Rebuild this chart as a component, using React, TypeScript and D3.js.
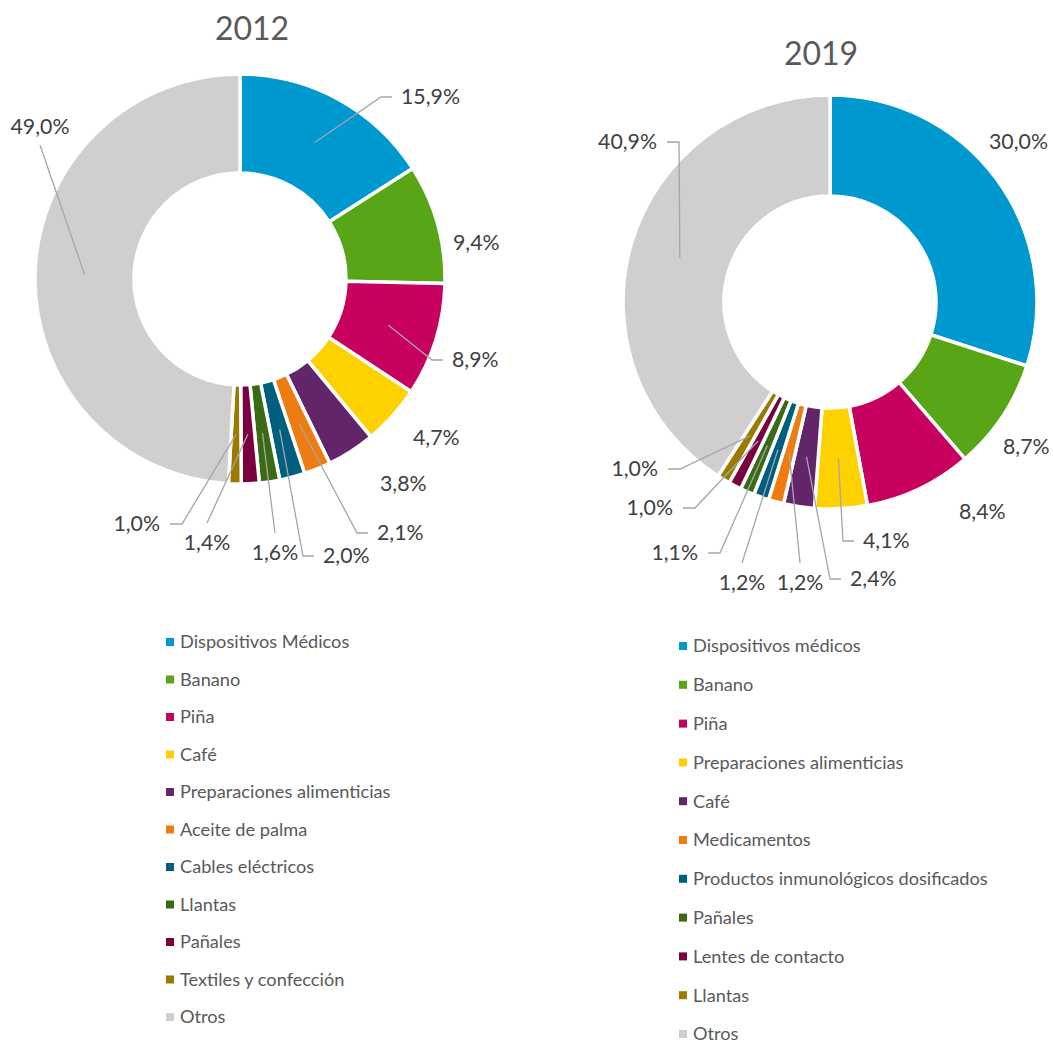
import React from 'react';
import * as d3 from 'd3';

// 2012
const cats2012 = [
  'Dispositivos Médicos', 'Banano', 'Piña', 'Café', 'Preparaciones alimenticias',
  'Aceite de palma', 'Cables eléctricos', 'Llantas', 'Pañales', 'Textiles y confección', 'Otros',
];
const vals2012 = [15.9, 9.4, 8.9, 4.7, 3.8, 2.1, 2.0, 1.6, 1.4, 1.0, 49.0];

// 2019
const cats2019 = [
  'Dispositivos médicos', 'Banano', 'Piña', 'Preparaciones alimenticias', 'Café',
  'Medicamentos', 'Productos inmunológicos dosificados', 'Pañales', 'Lentes de contacto', 'Llantas', 'Otros',
];
const vals2019 = [30.0, 8.7, 8.4, 4.1, 2.4, 1.2, 1.2, 1.1, 1.0, 1.0, 40.9];

const palette = [
  '#0099CF', '#58A618', '#C8005E', '#FED100', '#62256A', '#EE7D11',
  '#005F7F', '#3A6A13', '#7A0040', '#9A7B00', '#D0CECF',
];

// label placement (offset from the centre) and leader style, per slice
type Lbl = [number, number, string];
const labels2012: Lbl[] = [
  [161, -182, 'left'], [213, -36, 'none'], [212, 81, 'left'], [173, 159, 'none'],
  [140, 205, 'none'], [137, 254, 'left'], [83, 277, 'left'], [35, 274, 'top'],
  [-33, 264, 'top'], [-80, 245, 'right'], [-200, -152, 'bottom'],
];
const labels2019: Lbl[] = [
  [159, -160, 'none'], [173, 145, 'none'], [129, 210, 'none'], [33, 239, 'left'],
  [20, 277, 'left'], [-30, 281, 'top'], [-88, 281, 'top'], [-132, 251, 'right'],
  [-157, 206, 'right'], [-172, 167, 'right'], [-173, -160, 'right'],
];

const FONT = 'Lato, "Open Sans", sans-serif';
const fmt = (v: number) => d3.format('.1f')(v).replace('.', ',') + '%';

function Donut({ title, cats, vals, labels, cx, cy, R, r, titleX, titleY, legX, legY, legStep }) {
  const pie = d3.pie<number>().sort(null).value(d => d);
  const arcs = pie(vals);
  const arc = d3.arc<d3.PieArcDatum<number>>().innerRadius(r).outerRadius(R);
  const mid = d3.arc<d3.PieArcDatum<number>>().innerRadius((R + r) / 2).outerRadius((R + r) / 2);

  return (
    <g>
      <text x={titleX} y={titleY} textAnchor="middle" fontSize={32} fill="#595959">{title}</text>
      <g transform={`translate(${cx},${cy})`}>
        {arcs.map((a, i) => (
          <path key={i} d={arc(a) || ''} fill={palette[i]} stroke="#fff" strokeWidth={3.5} strokeLinejoin="miter" />
        ))}
        {arcs.map((a, i) => {
          const [lx, ly, mode] = labels[i];
          const [sx, sy] = mid.centroid(a);
          let pts: [number, number][] | null = null;
          let anchor = 'start';
          if (mode === 'left') pts = [[sx, sy], [lx - 20, ly], [lx - 9, ly]];
          if (mode === 'right') { pts = [[sx, sy], [lx + 22, ly], [lx + 10, ly]]; anchor = 'end'; }
          if (mode === 'top') { pts = [[sx, sy], [lx, ly - 20]]; anchor = 'middle'; }
          if (mode === 'bottom') { pts = [[sx, sy], [lx, ly + 18]]; anchor = 'middle'; }
          return (
            <g key={i}>
              {pts && <path d={d3.line()(pts) || ''} fill="none" stroke="#A6A6A6" strokeWidth={1.3} />}
              <text x={lx} y={ly} dy="0.35em" textAnchor={anchor} fontSize={21.3} fill="#404040">{fmt(vals[i])}</text>
            </g>
          );
        })}
      </g>
      <g transform={`translate(${legX},${legY})`}>
        {cats.map((c, i) => (
          <g key={i} transform={`translate(0,${i * legStep})`}>
            <rect x={-14} y={-4} width={8} height={8} fill={palette[i]} />
            <text x={0} y={0} dy="0.35em" fontSize={18.2} fill="#595959">{c}</text>
          </g>
        ))}
      </g>
    </g>
  );
}

export default function App() {
  return (
    <svg width={1053} height={1042} style={{ position: 'absolute', left: 0, top: 0, background: '#fff' }}
      fontFamily={FONT}>
      <Donut title="2012" cats={cats2012} vals={vals2012} labels={labels2012}
        cx={240} cy={279} R={205} r={106} titleX={252} titleY={40}
        legX={180} legY={642} legStep={37.5} />
      <Donut title="2019" cats={cats2019} vals={vals2019} labels={labels2019}
        cx={830} cy={302} R={207} r={106} titleX={821} titleY={65}
        legX={693} legY={646} legStep={38.8} />
    </svg>
  );
}
